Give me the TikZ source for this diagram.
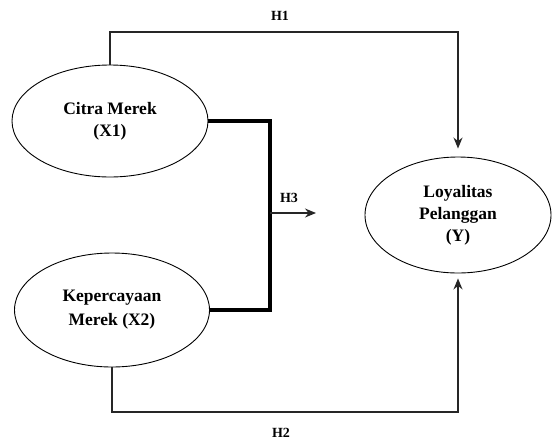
\documentclass[tikz,border=0pt]{standalone}
\usepackage{fontspec}
\setmainfont{Liberation Serif}
\usetikzlibrary{arrows.meta,shapes.geometric}
\begin{document}
\begin{tikzpicture}[x=1pt,y=-1pt,
  var/.style={ellipse,draw,line width=0.9pt,inner sep=0pt,align=center,
    font=\fontsize{17.5}{22}\selectfont\bfseries},
  lbl/.style={font=\fontsize{14}{16}\selectfont\bfseries,inner sep=0pt},
  path/.style={line width=1.4pt,draw=black!85},
  tip/.style={-{Stealth[length=11pt,width=9pt]}}]
\useasboundingbox (0,0) rectangle (553,442);
\node[var,minimum width=196pt,minimum height=112pt] (x1) at (110,121) {Citra Merek\\(X1)};
\node[var,minimum width=195pt,minimum height=114pt] (x2) at (112,310) {Kepercayaan\\[2pt]Merek (X2)};
\node[var,minimum width=186pt,minimum height=116pt] (y) at (458,215) {Loyalitas\\Pelanggan\\(Y)};
\coordinate (top) at (0,32);
\coordinate (bot) at (0,412);
\coordinate (br) at (270,0);
\coordinate (h3s) at (270,213);
\coordinate (h3e) at (316,213);
% H1
\draw[path,tip,shorten >=8pt] (x1.north) -- (x1.north |- top) -| (y.north);
\node[lbl] (l1) at (280,16) {H1};
% H2
\draw[path,tip,shorten >=5pt] (x2.south) -- (x2.south |- bot) -| (y.south);
\node[lbl] (l2) at (281,433) {H2};
% H3 bracket
\draw[line width=4pt] (x1.east) -- (br |- x1.east) -- (br |- x2.east) -- (x2.east);
\draw[path,tip] (h3s) -- (h3e);
\node[lbl] (l3) at (289,198) {H3};
\end{tikzpicture}
\end{document}
